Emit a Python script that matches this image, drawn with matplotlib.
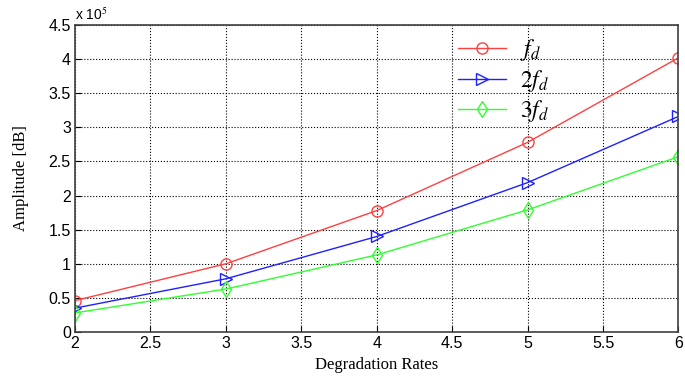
import matplotlib.pyplot as plt

# --- Dados ---
rates = [2, 3, 4, 5, 6]
amp_fd = [0.46, 1.0, 1.78, 2.78, 4.02]
amp_2fd = [0.35, 0.78, 1.40, 2.19, 3.16]
amp_3fd = [0.28, 0.63, 1.13, 1.79, 2.57]
scale = 1e5

plt.rcParams['mathtext.fontset'] = 'stix'

fig = plt.figure(figsize=(6.85, 3.76), dpi=100)
ax = fig.add_axes([0.1095, 0.117, 0.881, 0.8165])

ax.plot(rates, [v * scale for v in amp_fd], color='#ff4040', marker='o', mfc='none',
        ms=8, lw=1, label='$f_d$')
ax.plot(rates, [v * scale for v in amp_2fd], color='#2020ff', marker='>', mfc='none',
        ms=8, lw=1, label='$2f_d$')
ax.plot(rates, [v * scale for v in amp_3fd], color='#30ff30', marker='d', mfc='none',
        ms=8, lw=1, label='$3f_d$')

ax.set_xlim(2, 6)
ax.set_ylim(0, 4.5e5)
ax.set_xticks([2, 2.5, 3, 3.5, 4, 4.5, 5, 5.5, 6])
ax.set_xticklabels(['2', '2.5', '3', '3.5', '4', '4.5', '5', '5.5', '6'])
yt = [0, 0.5, 1, 1.5, 2, 2.5, 3, 3.5, 4, 4.5]
ax.set_yticks([v * scale for v in yt])
ax.set_yticklabels(['0', '0.5', '1', '1.5', '2', '2.5', '3', '3.5', '4', '4.5'])
ax.tick_params(direction='in', labelsize=11.5, pad=3, length=4)
for lbl in ax.get_xticklabels() + ax.get_yticklabels():
    lbl.set_family('Liberation Sans')
ax.grid(True, color='black', linestyle=':', lw=0.8)
for s in ax.spines.values():
    s.set_color('#404040')
    s.set_linewidth(1.2)

ax.text(0.0, 1.005, r'x 10$^{5}$', transform=ax.transAxes, fontsize=10,
        family='Liberation Sans', va='bottom', ha='left')

ax.set_xlabel('Degradation Rates', family='Liberation Serif', fontsize=12, labelpad=4)
ax.set_ylabel('Amplitude [dB]', family='Liberation Serif', fontsize=12, labelpad=14)

leg = ax.legend(loc='upper left', bbox_to_anchor=(0.6, 1.03), frameon=False,
                fontsize=17, handlelength=2.0, labelspacing=0.2, handletextpad=0.6)

fig.savefig('out.png', dpi=100)
